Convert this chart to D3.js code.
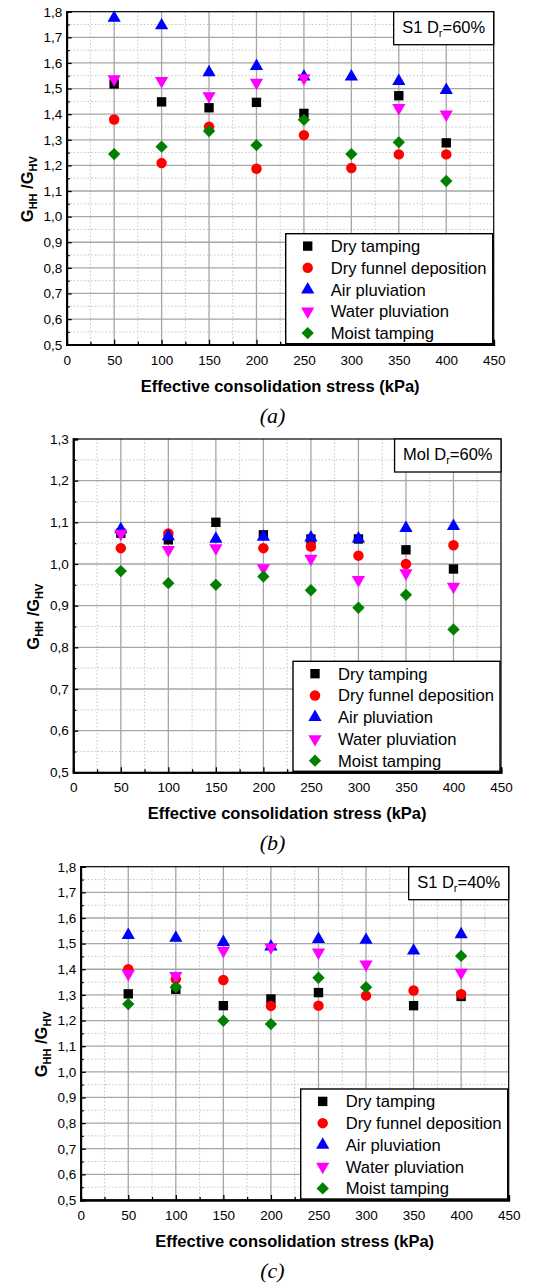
<!DOCTYPE html>
<html>
<head>
<meta charset="utf-8">
<title>GHH/GHV</title>
<script src="https://cdn.jsdelivr.net/npm/d3@7"></script>
<style>
  body { margin: 0; background: #fff; }
  svg text { font-family: "Liberation Sans", Arial, sans-serif; }
  svg text.cap { font-family: "Liberation Serif", "Times New Roman", serif; font-style: italic; }
</style>
</head>
<body>
<svg id="chart" width="556" height="1283"></svg>
<script>
// stress levels (kPa)
const stress = [50, 100, 150, 200, 250, 300, 350, 400];
const methods = ["Dry tamping", "Dry funnel deposition", "Air pluviation", "Water pluviation", "Moist tamping"];
const xTicks = [0, 50, 100, 150, 200, 250, 300, 350, 400, 450];

// (a) S1 Dr=60%
const s1Dr60 = [
  [1.518, 1.448, 1.425, 1.446, 1.403, null, 1.472, 1.288],
  [1.379, 1.209, 1.351, 1.187, 1.318, 1.190, 1.243, 1.243],
  [1.776, 1.746, 1.563, 1.587, 1.546, 1.546, 1.529, 1.494],
  [1.537, 1.530, 1.471, 1.523, 1.541, null, 1.425, 1.399],
  [1.244, 1.273, 1.334, 1.279, 1.378, 1.244, 1.290, 1.139]
];
// (b) Mol Dr=60%
const molDr60 = [
  [1.074, 1.058, 1.100, 1.070, 1.060, 1.060, 1.034, 0.988],
  [1.038, 1.073, null, 1.038, 1.042, 1.020, 1.000, 1.045],
  [1.083, 1.066, 1.060, 1.065, 1.063, 1.061, 1.086, 1.091],
  [1.073, 1.034, 1.038, 0.990, 1.013, 0.962, 0.978, 0.946],
  [0.983, 0.954, 0.950, 0.970, 0.937, 0.895, 0.926, 0.843]
];
// (c) S1 Dr=40%
const s1Dr40 = [
  [1.304, 1.322, 1.258, 1.284, 1.309, null, 1.258, 1.294],
  [1.400, 1.361, 1.358, 1.257, 1.258, 1.297, 1.317, 1.303],
  [1.533, 1.522, 1.506, 1.488, 1.517, 1.514, 1.472, 1.536],
  [1.382, 1.374, 1.473, 1.486, 1.466, 1.419, null, 1.387],
  [1.264, 1.330, 1.199, 1.186, 1.367, 1.330, null, 1.452]
];

const colors = ["#000000", "#ff0000", "#0000ff", "#ff00ff", "#008000"];
const symbols = [
  { type: d3.symbolSquare, size: 88, rot: 0 },
  { type: d3.symbolCircle, size: 86, rot: 0 },
  { type: d3.symbolTriangle, size: 76, rot: 0 },
  { type: d3.symbolTriangle, size: 76, rot: 180 },
  { type: d3.symbolSquare, size: 76, rot: 45 }
];

const panels = [
  { data: s1Dr60, box: [66.7, 493.7, 11.7, 344.7], yMax: 1.8, tag: ["S1 D", "=60%"], cap: "(a)" },
  { data: molDr60, box: [73.3, 501, 439, 772.3], yMax: 1.3, tag: ["Mol D", "=60%"], cap: "(b)" },
  { data: s1Dr40, box: [80.7, 508.7, 866.7, 1200], yMax: 1.8, tag: ["S1 D", "=40%"], cap: "(c)" }
];

const svg = d3.select("#chart");
const fmt = v => d3.format(".1f")(v).replace(".", ",");

panels.forEach(p => {
  const [left, right, top, bottom] = p.box;
  const x = d3.scaleLinear().domain([0, 450]).range([left, right]);
  const y = d3.scaleLinear().domain([0.5, p.yMax]).range([bottom, top]);
  const g = svg.append("g");

  const yMajor = d3.range(0.5, p.yMax + 0.001, 0.1);
  const yMinor = d3.range(0.55, p.yMax, 0.1);
  const xMinor = d3.range(25, 450, 50);

  // minor grid (dotted)
  g.append("g").selectAll("line").data(xMinor).join("line")
    .attr("x1", d => x(d)).attr("x2", d => x(d)).attr("y1", top).attr("y2", bottom)
    .attr("stroke", "#c4c4c4").attr("stroke-dasharray", "1.5,2");
  g.append("g").selectAll("line").data(yMinor).join("line")
    .attr("y1", d => y(d)).attr("y2", d => y(d)).attr("x1", left).attr("x2", right)
    .attr("stroke", "#c4c4c4").attr("stroke-dasharray", "1.5,2");

  // major grid
  g.append("g").selectAll("line").data(xTicks.slice(1, -1)).join("line")
    .attr("x1", d => x(d)).attr("x2", d => x(d)).attr("y1", top).attr("y2", bottom)
    .attr("stroke", "#a6a6a6").attr("stroke-width", 1.3);
  g.append("g").selectAll("line").data(yMajor.slice(1, -1)).join("line")
    .attr("y1", d => y(d)).attr("y2", d => y(d)).attr("x1", left).attr("x2", right)
    .attr("stroke", "#a6a6a6").attr("stroke-width", 1.3);

  // frame
  g.append("rect").attr("x", left).attr("y", top)
    .attr("width", right - left).attr("height", bottom - top)
    .attr("fill", "none").attr("stroke", "#000").attr("stroke-width", 1.2);

  // axes, ticks inward
  const xAxis = g.append("g").attr("transform", `translate(0,${bottom})`)
    .call(d3.axisBottom(x).tickValues(xTicks).tickSize(-5).tickPadding(10.5).tickFormat(d3.format("d")));
  const xAxisMinor = g.append("g").attr("transform", `translate(0,${bottom})`)
    .call(d3.axisBottom(x).tickValues(xMinor).tickSize(-3).tickFormat(""));
  const yAxis = g.append("g").attr("transform", `translate(${left},0)`)
    .call(d3.axisLeft(y).tickValues(yMajor).tickSize(-5).tickPadding(4.5).tickFormat(fmt));
  const yAxisMinor = g.append("g").attr("transform", `translate(${left},0)`)
    .call(d3.axisLeft(y).tickValues(yMinor).tickSize(-3).tickFormat(""));
  [xAxis, xAxisMinor, yAxis, yAxisMinor].forEach(a => {
    a.attr("font-size", 13.5).attr("font-family", null);
    a.select(".domain").attr("stroke-width", 1.8);
    a.selectAll(".tick line").attr("stroke-width", 1.3);
    a.selectAll("text").attr("fill", "#000");
  });

  // points
  p.data.forEach((vals, i) => {
    const sym = d3.symbol().type(symbols[i].type).size(symbols[i].size);
    g.append("g").selectAll("path")
      .data(stress.map((s, j) => ({ s, v: vals[j] })).filter(d => d.v != null))
      .join("path")
      .attr("d", sym)
      .attr("transform", d => `translate(${x(d.s)},${y(d.v)}) rotate(${symbols[i].rot})`)
      .attr("fill", colors[i]);
  });

  // tag box
  const tag = g.append("g");
  const tagText = tag.append("text").attr("font-size", 16.5).attr("y", top + 21);
  tagText.append("tspan").text(p.tag[0]);
  tagText.append("tspan").text("r").attr("font-size", 11).attr("dy", 4);
  tagText.append("tspan").text(p.tag[1]).attr("dy", -4);
  const tw = tagText.node().getComputedTextLength();
  const bw = tw + 17;
  tagText.attr("x", right - bw + 8.5);
  tag.insert("rect", "text").attr("x", right - bw).attr("y", top)
    .attr("width", bw).attr("height", 33)
    .attr("fill", "#fff").attr("stroke", "#000").attr("stroke-width", 1.3);

  // legend
  const lw = 207, lh = 110;
  const lx = right - 1 - lw, ly = bottom - 1 - lh;
  const leg = g.append("g");
  leg.append("rect").attr("x", lx).attr("y", ly).attr("width", lw).attr("height", lh)
    .attr("fill", "#fff").attr("stroke", "#000").attr("stroke-width", 1.4);
  methods.forEach((m, i) => {
    const cy = ly + 12.4 + i * 21.75;
    leg.append("path")
      .attr("d", d3.symbol().type(symbols[i].type).size(symbols[i].size)())
      .attr("transform", `translate(${lx + 22},${cy}) rotate(${symbols[i].rot})`)
      .attr("fill", colors[i]);
    leg.append("text").attr("x", lx + 45).attr("y", cy + 6)
      .attr("font-size", 16.6).text(m);
  });

  // axis titles
  g.append("text").attr("x", (left + right) / 2).attr("y", bottom + 47)
    .attr("text-anchor", "middle").attr("font-size", 16.5).attr("font-weight", "bold")
    .text("Effective consolidation stress (kPa)");

  const yl = g.append("text")
    .attr("transform", `translate(${left - 34},${(top + bottom) / 2 + 11}) rotate(-90)`)
    .attr("text-anchor", "middle").attr("font-size", 16.5).attr("font-weight", "bold");
  yl.append("tspan").text("G");
  yl.append("tspan").text("HH").attr("font-size", 11).attr("dy", 4);
  yl.append("tspan").text(" /G").attr("dy", -4);
  yl.append("tspan").text("HV").attr("font-size", 11).attr("dy", 4);

  // caption
  g.append("text").attr("class", "cap").attr("x", 272.5).attr("y", bottom + 78)
    .attr("text-anchor", "middle").attr("font-size", 22).text(p.cap);
});
</script>
</body>
</html>
